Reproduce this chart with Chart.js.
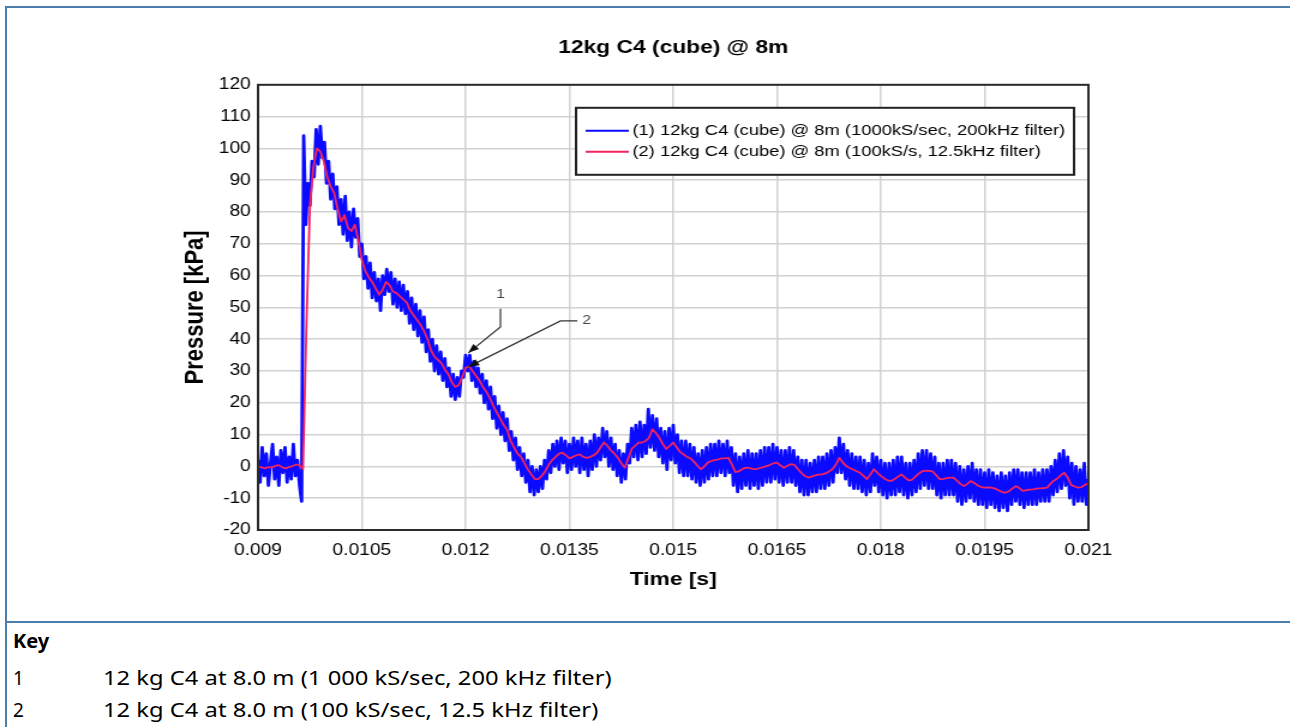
<!DOCTYPE html>
<html>
<head>
<meta charset="utf-8">
<title>12kg C4 (cube) @ 8m</title>
<script src="https://cdn.jsdelivr.net/npm/chart.js@4.4.1/dist/chart.umd.min.js"></script>
<style>
  html, body { margin: 0; padding: 0; background: #fff; }
  body { width: 1290px; height: 727px; position: relative; overflow: hidden; }
  .rule { position: absolute; background: #4a7fab; }
  #chart { position: absolute; left: 0; top: 0; }
  .key { position: absolute; left: 13px; font-family: 'Noto Sans', 'Open Sans', sans-serif; font-size: 19px; line-height: 24px; color: #000; white-space: nowrap; }
  .key b { font-weight: 700; font-size: 20px; }
  .key .num { display: inline-block; width: 90px; }
  .key .txt { display: inline-block; transform: scaleX(1.25); transform-origin: left center; }
</style>
</head>
<body>
<div class="rule" style="left:5px;top:6px;right:0;height:2px"></div>
<div class="rule" style="left:5px;top:6px;bottom:0;width:2px"></div>
<div class="rule" style="left:5px;top:621px;right:0;height:2px"></div>
<!-- drawn 1075 wide and shown 1290 wide: the source chart is stretched sideways -->
<canvas id="chart" width="1075" height="620" style="width:1290px;height:620px"></canvas>
<div class="key" style="top:629px"><b>Key</b></div>
<div class="key" style="top:666px"><span class="num">1</span><span class="txt">12 kg C4 at 8.0 m (1 000 kS/sec, 200 kHz filter)</span></div>
<div class="key" style="top:698px"><span class="num">2</span><span class="txt">12 kg C4 at 8.0 m (100 kS/sec, 12.5 kHz filter)</span></div>
<script>
const chartTitle = '12kg C4 (cube) @ 8m';
const xTitle = 'Time [s]';
const yTitle = 'Pressure [kPa]';
const seriesLabels = [
    '(1) 12kg C4 (cube) @ 8m (1000kS/sec, 200kHz filter)',
    '(2) 12kg C4 (cube) @ 8m (100kS/s, 12.5kHz filter)'
];
const seriesColors = ['#0a0aff', '#f2245e'];

const xTicks = [0.009, 0.0105, 0.012, 0.0135, 0.015, 0.0165, 0.018, 0.0195, 0.021];
const xTickLabels = ['0.009', '0.0105', '0.012', '0.0135', '0.015', '0.0165', '0.018', '0.0195', '0.021'];
const yMin = -20, yMax = 120, yStep = 10;

// (1) 1000 kS/s record, one reading every 0.03 ms from 0.009 s
const fastStart = 0.009, fastStep = 0.00003;
const fastValues = [
    2, -5, 6, -3, 4, -6, 1, 7, -4, 3, -6, 5, -2, 6, -5, 3, -4, 7, -3, 2,
    -6, -11, 104, 76, 89, 82, 96, 91, 106, 95, 107, 97, 102, 89, 96, 84, 92, 81, 88, 76,
    84, 73, 85, 71, 80, 69, 81, 72, 78, 66, 70, 59, 66, 56, 64, 53, 61, 52, 59, 49,
    60, 54, 62, 55, 61, 51, 59, 50, 58, 49, 57, 48, 55, 45, 53, 43, 51, 41, 49, 39,
    47, 36, 43, 33, 40, 30, 38, 29, 36, 27, 34, 25, 31, 22, 29, 21, 28, 22, 30, 28,
    35, 30, 35, 27, 33, 25, 31, 23, 29, 20, 27, 18, 25, 15, 22, 12, 19, 10, 17, 8,
    15, 5, 11, 2, 9, -1, 6, -3, 4, -5, 2, -8, 0, -9, -1, -8, 0, -7, 2, -4,
    5, -2, 7, 0, 8, -1, 9, 1, 8, -2, 7, -1, 9, 0, 8, -2, 9, -1, 7, -3,
    8, -1, 10, 0, 9, 2, 12, 3, 11, 0, 9, -1, 7, -3, 5, -5, 4, -4, 7, 1,
    12, 3, 13, 2, 14, 3, 13, 4, 18, 6, 16, 5, 15, 3, 12, 1, 11, -1, 12, 2,
    13, 1, 10, -2, 8, -3, 8, -3, 7, -4, 6, -5, 4, -6, 5, -5, 6, -4, 7, -3,
    7, -3, 8, -2, 7, -3, 8, -2, 6, -6, 4, -8, 3, -7, 4, -6, 5, -7, 4, -6,
    4, -7, 5, -6, 6, -5, 6, -5, 7, -4, 6, -5, 5, -6, 5, -5, 6, -5, 5, -6,
    3, -8, 2, -9, 2, -9, 1, -8, 2, -8, 3, -7, 3, -7, 4, -6, 5, -5, 6, -2,
    9, -2, 7, -4, 5, -6, 4, -7, 3, -7, 3, -8, 2, -9, 1, -8, 4, -6, 3, -8,
    2, -9, 1, -10, 1, -9, 2, -9, 3, -8, 3, -9, 1, -10, 1, -9, 2, -8, 4, -7,
    5, -6, 5, -7, 4, -7, 3, -9, 1, -10, 1, -9, 2, -9, 2, -9, 1, -11, 0, -12,
    -1, -11, 0, -10, 1, -11, -1, -12, -1, -12, -2, -13, -1, -12, -2, -13, -3, -14, -2, -13,
    -3, -14, -2, -12, -1, -11, -1, -12, -2, -13, -2, -12, -2, -12, -1, -12, -2, -11, -1, -11,
    -1, -11, 0, -9, 2, -8, 4, -7, 5, -6, 3, -10, 1, -12, 0, -11, -1, -11, 1, -12,
    -4
];

// (2) 100 kS/s record, 12.5 kHz filter, one reading every 0.05 ms from 0.009 s
const slowStart = 0.009, slowStep = 0.00005;
const slowValues = [
    0, -0.3, -0.6, -0.2, -0.4, 0.2, 0.4, -0.3, -0.6, -0.2, 0.1, 0.6, 0.3, -0.8, 45, 82, 94, 100, 99, 96,
    91, 88, 86, 81, 77, 79, 75, 74, 76, 71, 65, 61.5, 59.5, 58, 56, 54, 55.5, 58, 57, 55,
    54.5, 53.5, 52.5, 51.5, 49, 47.5, 46, 44.5, 42.5, 40, 36.5, 34.5, 33.5, 32.5, 30.5, 29, 26.5, 25, 25.5, 28,
    31, 31.5, 30, 28.5, 27, 25, 23.5, 21.5, 19, 17, 15, 13, 11.5, 8, 6, 4, 3, 1, -1, -2.5,
    -4, -4, -3, -1.5, 0.5, 2, 3, 4, 4.3, 3.5, 2.5, 3, 3.5, 3.8, 3, 2.7, 3, 3.5, 4.3, 6,
    7.5, 6.5, 5, 4, 2.7, 1, -0.4, 2.5, 5.5, 6.5, 7.5, 7.5, 8, 9, 11.7, 10.5, 9, 7, 5.5, 6.5,
    7.5, 6, 4.5, 3.8, 3, 2.5, 1.5, 0.2, -0.9, 0, 1.2, 1.7, 2, 2.2, 2.5, 2.5, 2.7, 0.5, -1.8, -1.5,
    -0.8, -0.4, -0.5, -0.8, -0.9, -0.5, -0.2, 0.1, 0.5, 1, 1.2, 0.3, -0.4, 0.2, 0.7, 0.5, -0.8, -2, -3, -3.5,
    -3.2, -2.8, -2.6, -2.5, -2.2, -1.6, -0.9, 0.5, 2.7, 1.2, 0.1, -0.5, -1, -1.5, -2, -3, -4, -2.5, -0.9, -2,
    -3, -3.8, -4.4, -4.6, -4, -3.2, -2.5, -3.5, -4.4, -4.2, -3.2, -2.2, -1.5, -1.3, -1.4, -1.6, -2.8, -4, -4, -3.7,
    -3.5, -3.5, -4.5, -5.5, -6.2, -5.5, -4.6, -5.2, -6, -6.5, -6.7, -6.6, -6.7, -7, -7.5, -8, -8.3, -7.8, -7, -6.2,
    -6.8, -7.7, -7.5, -7.3, -7.2, -7, -6.9, -6.8, -6.7, -5.5, -4.5, -3.8, -2.8, -2, -3.5, -5.8, -6.3, -6.7, -6.5, -5.8,
    -5.3
];

// numbered arrows "1" and "2" pointing at the second peak
const calloutLabels = ['1', '2'];
const calloutTimes = [0.01204, 0.01204];
const calloutValues = [35.7, 31.3];

const FONT = "'Liberation Sans', Arial, sans-serif";
Chart.defaults.font.family = FONT;
Chart.defaults.color = '#000';

const plotFrame = {
    id: 'plotFrame',
    afterDatasetsDraw(chart) {
        const { ctx, chartArea: a } = chart;
        ctx.save();
        ctx.strokeStyle = '#2a2a2a';
        ctx.lineWidth = 2;
        ctx.strokeRect(a.left, a.top, a.right - a.left, a.bottom - a.top);
        ctx.restore();
    }
};

// leader lines in canvas units, measured from the arrow tip
const leaderPaths = [
    { pts: [[26.7, -26], [26.7, -44]], text: [26.7, -58], align: 'center' },
    { pts: [[76.7, -46], [90.8, -46]], text: [95, -46], align: 'left' }
];

const callouts = {
    id: 'callouts',
    afterDatasetsDraw(chart) {
        const { ctx, scales: { x, y } } = chart;
        ctx.save();
        ctx.strokeStyle = '#333';
        ctx.lineWidth = 1.2;
        calloutTimes.forEach((t, i) => {
            const px = x.getPixelForValue(t);
            const py = y.getPixelForValue(calloutValues[i]);
            const p = leaderPaths[i];
            const first = p.pts[0];
            ctx.beginPath();
            ctx.moveTo(px, py);
            p.pts.forEach(([dx, dy]) => ctx.lineTo(px + dx, py + dy));
            ctx.stroke();
            // arrow head
            const ang = Math.atan2(-first[1], -first[0]);
            const len = 9, half = 3.5;
            ctx.fillStyle = '#111';
            ctx.beginPath();
            ctx.moveTo(px, py);
            ctx.lineTo(px - len * Math.cos(ang) + half * Math.sin(ang), py - len * Math.sin(ang) - half * Math.cos(ang));
            ctx.lineTo(px - len * Math.cos(ang) - half * Math.sin(ang), py - len * Math.sin(ang) + half * Math.cos(ang));
            ctx.closePath();
            ctx.fill();
            ctx.fillStyle = '#444';
            ctx.font = '13px ' + FONT;
            ctx.textAlign = p.align;
            ctx.textBaseline = 'middle';
            ctx.fillText(calloutLabels[i], px + p.text[0], py + p.text[1]);
        });
        ctx.restore();
    }
};

const boxLegend = {
    id: 'boxLegend',
    afterDraw(chart) {
        const { ctx, chartArea: a } = chart;
        const x = a.right - 427, y = a.top + 23, w = 415, h = 67;
        ctx.save();
        ctx.fillStyle = '#fff';
        ctx.fillRect(x, y, w, h);
        ctx.strokeStyle = '#222';
        ctx.lineWidth = 2;
        ctx.strokeRect(x, y, w, h);
        ctx.font = '15.3px ' + FONT;
        ctx.textBaseline = 'middle';
        chart.data.datasets.forEach((ds, i) => {
            const ly = y + 23 + i * 21;
            ctx.strokeStyle = ds.borderColor;
            ctx.lineWidth = 2;
            ctx.beginPath();
            ctx.moveTo(x + 8, ly);
            ctx.lineTo(x + 44, ly);
            ctx.stroke();
            ctx.fillStyle = '#000';
            ctx.fillText(ds.label, x + 47, ly);
        });
        ctx.restore();
    }
};

const fastPoints = fastValues.map((v, i) => ({ x: fastStart + i * fastStep, y: v }));
const slowPoints = slowValues.map((v, i) => ({ x: slowStart + i * slowStep, y: v }));

const ctx = document.getElementById('chart').getContext('2d');
new Chart(ctx, {
    type: 'line',
    data: {
        datasets: [{
            label: seriesLabels[0],
            data: fastPoints,
            borderColor: seriesColors[0],
            borderWidth: 2.8,
            order: 2
        }, {
            label: seriesLabels[1],
            data: slowPoints,
            borderColor: seriesColors[1],
            borderWidth: 1.8,
            order: 1
        }]
    },
    options: {
        responsive: false,
        animation: false,
        devicePixelRatio: 1,
        events: [],
        elements: {
            point: { radius: 0 },
            line: { tension: 0, borderJoinStyle: 'round' }
        },
        layout: { padding: { left: 150, right: 168, top: 0, bottom: 0 } },
        scales: {
            x: {
                type: 'linear',
                min: xTicks[0],
                max: xTicks[xTicks.length - 1],
                afterBuildTicks: s => { s.ticks = xTicks.map(v => ({ value: v })); },
                afterFit: s => { s.height = 90; },
                grid: { color: '#d2d2d2', lineWidth: 1.5, drawTicks: false },
                border: { display: false },
                ticks: {
                    autoSkip: false, maxRotation: 0, padding: 11,
                    font: { size: 16 },
                    callback: (v, i) => xTickLabels[i]
                },
                title: {
                    display: true, text: xTitle,
                    font: { size: 19, weight: 'bold' },
                    padding: { top: 0, bottom: 29 }
                }
            },
            y: {
                min: yMin,
                max: yMax,
                afterFit: s => { s.width = 65; },
                grid: { color: '#d2d2d2', lineWidth: 1.5, drawTicks: false },
                border: { display: false },
                ticks: { stepSize: yStep, padding: 6, font: { size: 16 } },
                title: {
                    display: true, text: yTitle,
                    font: { size: 22, weight: 'bold' },
                    padding: { top: 0, bottom: 0 }
                }
            }
        },
        plugins: {
            legend: { display: false },
            tooltip: { enabled: false },
            title: {
                display: true,
                text: chartTitle,
                fullSize: false,
                font: { size: 19, weight: 'bold' },
                padding: { top: 36, bottom: 26 }
            }
        }
    },
    plugins: [plotFrame, callouts, boxLegend]
});
</script>
</body>
</html>
